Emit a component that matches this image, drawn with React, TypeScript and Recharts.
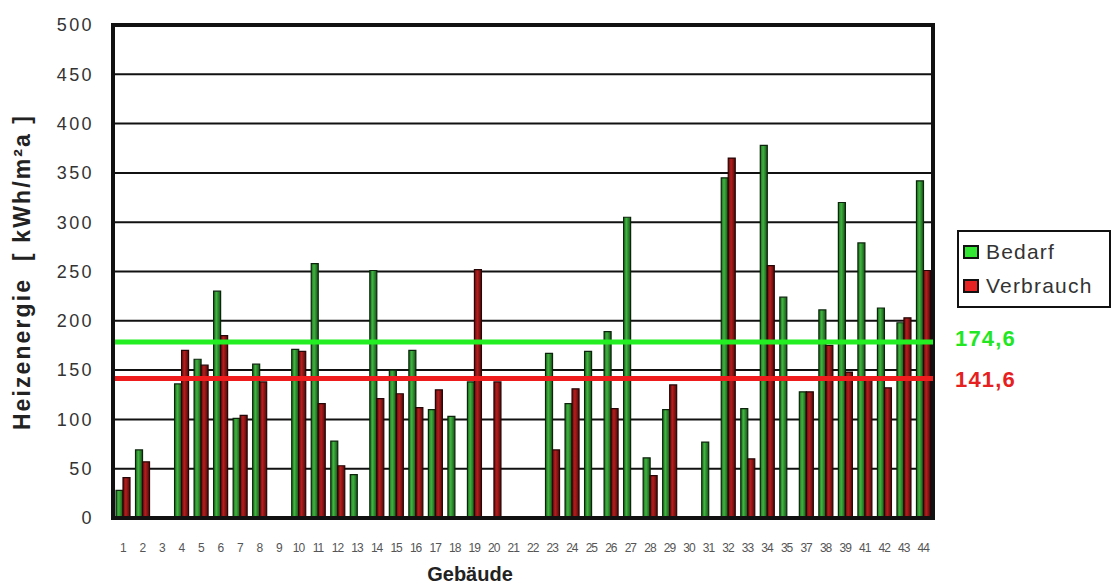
import React from "react";
import {
  BarChart,
  Bar,
  XAxis,
  YAxis,
  CartesianGrid,
  ReferenceLine,
  ReferenceArea,
  Legend,
} from "recharts";

const gebaeude = [
  "1", "2", "3", "4", "5", "6", "7", "8", "9", "10", "11", "12", "13", "14",
  "15", "16", "17", "18", "19", "20", "21", "22", "23", "24", "25", "26", "27",
  "28", "29", "30", "31", "32", "33", "34", "35", "37", "38", "39", "41", "42",
  "43", "44",
];

const bedarf = [
  28, 69, 0, 136, 161, 230, 101, 156, 0, 171, 258, 78, 44, 251, 150, 170, 110,
  103, 138, 0, 0, 0, 167, 116, 169, 189, 305, 61, 110, 0, 77, 345, 111, 378,
  224, 128, 211, 320, 279, 213, 198, 342,
];

const verbrauch = [
  41, 57, 0, 170, 155, 185, 104, 138, 0, 169, 116, 53, 0, 121, 126, 112, 130,
  0, 252, 138, 0, 0, 69, 131, 0, 111, 0, 43, 135, 0, 0, 365, 60, 256, 0, 128,
  175, 148, 142, 132, 203, 251,
];

const yTicks = [0, 50, 100, 150, 200, 250, 300, 350, 400, 450, 500];

// mean lines: position as drawn in the picture, label as printed
const mittelBedarf = 178.5;
const mittelVerbrauch = 141.6;
const mittelLabels = ["174,6", "141,6"];

const data = gebaeude.map((name, i) => ({
  name,
  bedarf: bedarf[i],
  verbrauch: verbrauch[i],
}));

const FONT = "'Liberation Sans', Arial, sans-serif";

function YTitle() {
  return (
    <text
      x={30}
      y={272}
      transform="rotate(-90 30 272)"
      textAnchor="middle"
      fontFamily={FONT}
      fontWeight="bold"
      fontSize={23}
      letterSpacing={2.1}
      fill="#222"
      style={{ whiteSpace: "pre" }}
    >
      {"Heizenergie  [ kWh/m²a ]"}
    </text>
  );
}

function XTitle() {
  return (
    <text
      x={470}
      y={581}
      textAnchor="middle"
      fontFamily={FONT}
      fontWeight="bold"
      fontSize={20}
      fill="#222"
    >
      Gebäude
    </text>
  );
}

function LegendBox() {
  const items = [
    { label: "Bedarf", color: "#33e633" },
    { label: "Verbrauch", color: "#e62222" },
  ];
  return (
    <div
      style={{
        border: "2px solid #111",
        padding: "3px 4px",
        background: "#fff",
        fontFamily: FONT,
        fontSize: 21,
        letterSpacing: 1.2,
        color: "#333",
        lineHeight: "34px",
      }}
    >
      {items.map((it) => (
        <div key={it.label} style={{ display: "flex", alignItems: "center" }}>
          <span
            style={{
              display: "inline-block",
              width: 12,
              height: 10,
              background: it.color,
              border: "2px solid #111",
              marginRight: 7,
            }}
          />
          {it.label}
        </div>
      ))}
    </div>
  );
}

export default function App() {
  return (
    <div style={{ width: 1112, height: 584, background: "#fff" }}>
      <style>{"body{margin:0}"}</style>
      <BarChart
        width={1112}
        height={584}
        data={data}
        margin={{ top: 25, right: 179, bottom: 36, left: 13 }}
        barGap={0}
        barSize={7}
      >
        <defs>
          <linearGradient id="gruen" x1="0" y1="0" x2="1" y2="0">
            <stop offset="0%" stopColor="#1f6a1f" />
            <stop offset="40%" stopColor="#3fb53f" />
            <stop offset="100%" stopColor="#175017" />
          </linearGradient>
          <linearGradient id="rot" x1="0" y1="0" x2="1" y2="0">
            <stop offset="0%" stopColor="#5e0e0e" />
            <stop offset="40%" stopColor="#b81d1d" />
            <stop offset="100%" stopColor="#4e0a0a" />
          </linearGradient>
        </defs>
        <CartesianGrid
          vertical={false}
          stroke="#111"
          strokeWidth={2}
          horizontalValues={yTicks}
        />
        <XAxis
          dataKey="name"
          interval={0}
          tickLine={false}
          axisLine={{ stroke: "#111", strokeWidth: 4 }}
          tick={{
            fontSize: 12,
            fill: "#555",
            fontFamily: FONT,
            letterSpacing: -1,
          }}
          tickMargin={19}
          height={30}
          label={<XTitle />}
        />
        <YAxis
          domain={[0, 500]}
          ticks={yTicks}
          tickLine={false}
          tickSize={0}
          tickMargin={19}
          axisLine={{ stroke: "#111", strokeWidth: 4 }}
          width={100}
          tick={{
            fontSize: 18,
            fill: "#333",
            fontFamily: FONT,
            letterSpacing: 2.4,
          }}
          label={<YTitle />}
        />
        <Legend
          layout="horizontal"
          align="center"
          verticalAlign="middle"
          wrapperStyle={{ left: 957, top: 230, width: 154 }}
          content={<LegendBox />}
        />
        <Bar
          dataKey="bedarf"
          name="Bedarf"
          fill="url(#gruen)"
          stroke="#0c240c"
          strokeWidth={1.2}
          isAnimationActive={false}
        />
        <Bar
          dataKey="verbrauch"
          name="Verbrauch"
          fill="url(#rot)"
          stroke="#260606"
          strokeWidth={1.2}
          isAnimationActive={false}
        />
        <ReferenceLine
          y={mittelBedarf}
          stroke="#22ee22"
          strokeWidth={5}
          label={{
            value: mittelLabels[0],
            position: "right",
            offset: 22,
            dy: -4,
            fill: "#22e622",
            fontSize: 22,
            letterSpacing: 1.2,
            fontWeight: "bold",
            fontFamily: FONT,
          }}
        />
        <ReferenceLine
          y={mittelVerbrauch}
          stroke="#ee1c1c"
          strokeWidth={5}
          label={{
            value: mittelLabels[1],
            position: "right",
            offset: 22,
            dy: 1,
            fill: "#e62020",
            fontSize: 22,
            letterSpacing: 1.2,
            fontWeight: "bold",
            fontFamily: FONT,
          }}
        />
        <ReferenceArea
          y1={0}
          y2={500}
          fill="none"
          stroke="#111"
          strokeWidth={4}
          fillOpacity={0}
        />
      </BarChart>
    </div>
  );
}
